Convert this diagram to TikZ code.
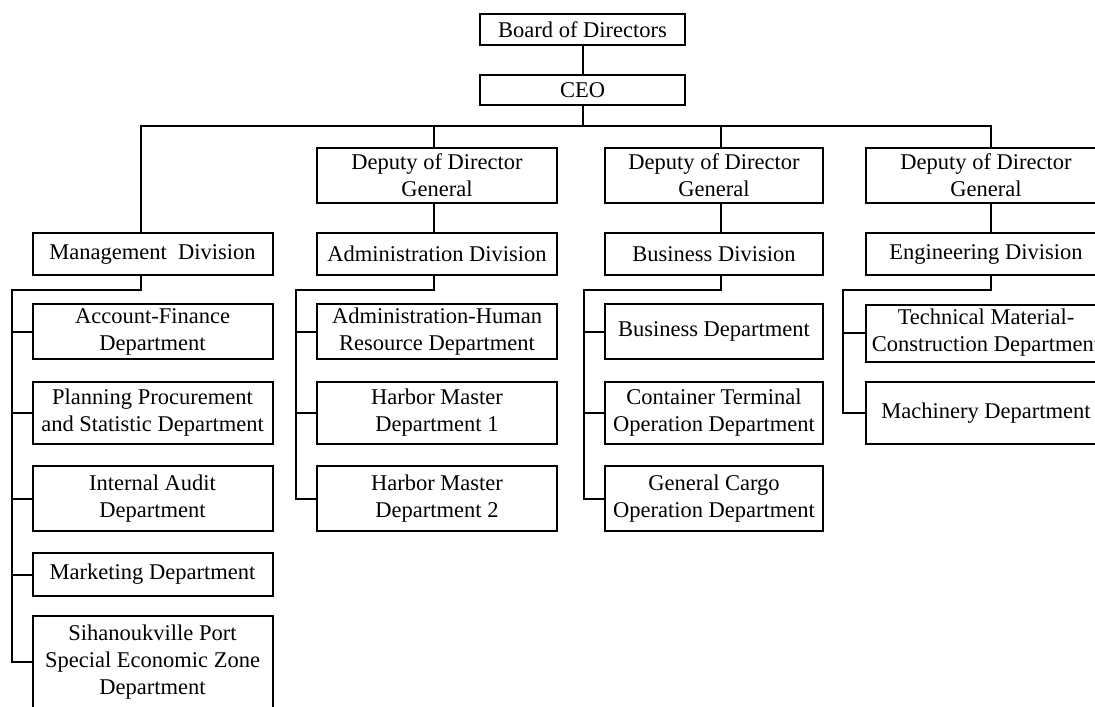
\documentclass[tikz,border=0pt]{standalone}
\usepackage{fontspec}
\setmainfont{Liberation Serif}
\usepackage{tikz}
\tikzstyle{unit} = [rectangle,
minimum width=120pt,
inner sep=0pt,
align=center,
font=\fontsize{11.25}{13.5}\selectfont,
draw=black, line width=1pt]
\tikzstyle{narrow} = [unit, minimum width=109pt]
\tikzstyle{link} = [line width=1pt,draw=black]

\begin{document}
\begin{tikzpicture}[x=0.5pt, y=-0.5pt]
        \useasboundingbox (0,0) rectangle (1095,706);
        \clip (0,0) rectangle (1095,706);

        % Board and CEO
        \node[unit, minimum width=102.5pt, minimum height=15.5pt] (board) at (582.5,29.5) {Board of Directors};
        \node[unit, minimum width=102.5pt, minimum height=15pt] (ceo) at (582.5,90) {CEO};

        % Deputies of Director General
        \node[unit, minimum height=27.5pt] (depA) at (437,175.5) {Deputy of Director\\General};
        \node[narrow, minimum height=27.5pt] (depB) at (714,175.5) {Deputy of Director\\General};
        \node[unit, minimum height=27.5pt] (depC) at (986,175.5) {Deputy of Director\\General};

        % Divisions
        \node[unit, minimum height=21pt] (divMgmt) at (152.5,254) {Management~~Division};
        \node[unit, minimum height=21pt] (divAdmin) at (437,254) {Administration Division};
        \node[narrow, minimum height=21pt] (divBus) at (714,254) {Business Division};
        \node[unit, minimum height=21pt] (divEng) at (986,254) {Engineering Division};

        % Departments of the Management Division
        \node[unit, minimum height=27.5pt] (accFin) at (152.5,331.5) {Account-Finance\\Department};
        \node[unit, minimum height=31pt] (planProc) at (152.5,413) {Planning Procurement\\and Statistic Department};
        \node[unit, minimum height=32.5pt] (intAudit) at (152.5,498.5) {Internal Audit\\Department};
        \node[unit, minimum height=21.5pt] (marketing) at (152.5,574.5) {Marketing Department};
        \node[unit, minimum height=46pt] (sezDept) at (152.5,662) {Sihanoukville Port\\Special Economic Zone\\Department};

        % Departments of the Administration Division
        \node[unit, minimum height=27.5pt] (adminHR) at (437,331.5) {Administration-Human\\Resource Department};
        \node[unit, minimum height=31pt] (harborA) at (437,413) {Harbor Master\\Department 1};
        \node[unit, minimum height=32.5pt] (harborB) at (437,498.5) {Harbor Master\\Department 2};

        % Departments of the Business Division
        \node[narrow, minimum height=27.5pt] (busDept) at (714,331.5) {Business Department};
        \node[narrow, minimum height=31pt] (contTerm) at (714,413) {Container Terminal\\Operation Department};
        \node[narrow, minimum height=32.5pt] (genCargo) at (714,498.5) {General Cargo\\Operation Department};

        % Departments of the Engineering Division
        \node[unit, minimum height=28.5pt] (techMat) at (986,333) {Technical Material-\\Construction Department};
        \node[unit, minimum height=31pt] (machinery) at (986,413) {Machinery Department};

        % Top bus
        \coordinate (busL) at (141,126);
        \coordinate (busR) at (991,126);
        \coordinate (tapA) at (434,126);
        \coordinate (tapB) at (721,126);
        \draw[link] (board) -- (ceo);
        \draw[link] (ceo.south) -- (ceo.south |- busL);
        \draw[link] (busL |- divMgmt.north) -- (busL) -- (busR) -- (busR |- depC.north);
        \draw[link] (tapA) -- (tapA |- depA.north);
        \draw[link] (tapB) -- (tapB |- depB.north);
        \draw[link] (tapA |- depA.south) -- (tapA |- divAdmin.north);
        \draw[link] (tapB |- depB.south) -- (tapB |- divBus.north);
        \draw[link] (busR |- depC.south) -- (busR |- divEng.north);

        % Spines down to the departments
        \coordinate (spineM) at (12,290);
        \coordinate (spineA) at (296,290);
        \coordinate (spineB) at (584,290);
        \coordinate (spineE) at (843,290);
        \draw[link] (busL |- divMgmt.south) |- (spineM) -- (spineM |- sezDept.west) -- (sezDept.west);
        \foreach \d in {accFin,planProc,intAudit,marketing}
            \draw[link] (spineM |- \d.west) -- (\d.west);
        \draw[link] (tapA |- divAdmin.south) |- (spineA) -- (spineA |- harborB.west) -- (harborB.west);
        \foreach \d in {adminHR,harborA}
            \draw[link] (spineA |- \d.west) -- (\d.west);
        \draw[link] (tapB |- divBus.south) |- (spineB) -- (spineB |- genCargo.west) -- (genCargo.west);
        \foreach \d in {busDept,contTerm}
            \draw[link] (spineB |- \d.west) -- (\d.west);
        \draw[link] (busR |- divEng.south) |- (spineE) -- (spineE |- machinery.west) -- (machinery.west);
        \draw[link] (spineE |- techMat.west) -- (techMat.west);

    \end{tikzpicture}
\end{document}
